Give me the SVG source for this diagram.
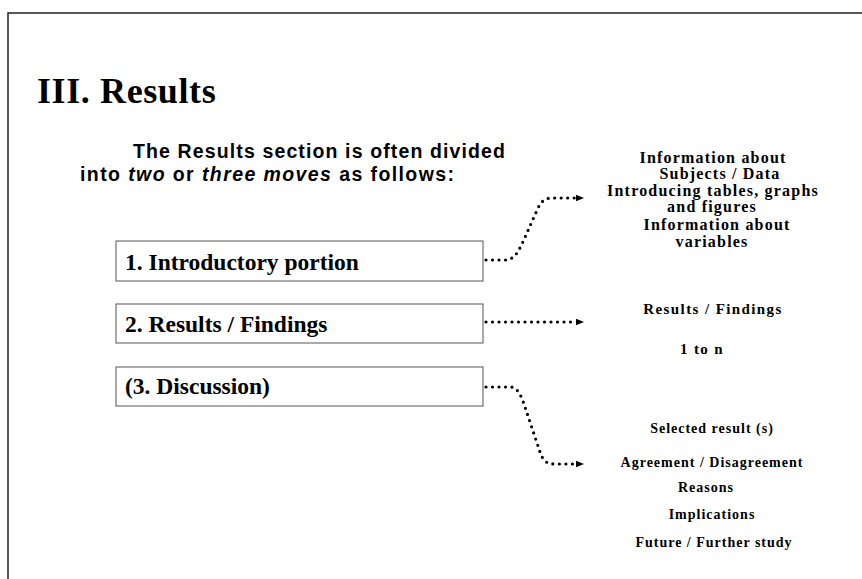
<svg xmlns="http://www.w3.org/2000/svg" width="862" height="579" viewBox="0 0 862 579">
<defs>
<style>
.frame{stroke:#222;stroke-width:1.5;fill:none}
.box{fill:#fff;stroke:#555;stroke-width:1}
.boxt{font-family:"Liberation Serif","Times New Roman",serif;font-weight:bold;font-size:23.5px;fill:#000}
.title{font-family:"Liberation Serif","Times New Roman",serif;font-weight:bold;font-size:36px;letter-spacing:0.6px;fill:#000}
.sub{font-family:"Liberation Sans",Arial,sans-serif;font-weight:bold;font-size:19.5px;fill:#000}
.rt{font-family:"Liberation Serif","Times New Roman",serif;font-weight:bold;fill:#000;text-anchor:middle}
.r1{font-size:16px;letter-spacing:1.2px}
.r2{font-size:15px;letter-spacing:1.4px}
.r3{font-size:14px;letter-spacing:1px}
.dot{fill:none;stroke:#000;stroke-width:3.2;stroke-linecap:round;stroke-dasharray:0 6.5}
</style>
<marker id="ah" viewBox="0 0 10 10" refX="0" refY="5" markerWidth="12" markerHeight="8" markerUnits="userSpaceOnUse" orient="auto">
<path d="M0,1 L10,5 L0,9 Z" fill="#000"/>
</marker>
</defs>
<rect width="862" height="579" fill="#fff"/>
<path class="frame" d="M8,579 V13 H862"/>
<text class="title" x="37" y="103">III. Results</text>
<text class="sub" x="133" y="158" textLength="372" lengthAdjust="spacing">The Results section is often divided</text>
<text class="sub" x="80" y="181" textLength="374" lengthAdjust="spacing">into <tspan font-style="italic">two</tspan>  or <tspan font-style="italic">three moves</tspan>  as follows:</text>
<g id="n1"><rect class="box" x="116" y="241" width="367" height="40"/><text class="boxt" x="125" y="270">1. Introductory portion</text></g>
<g id="n2"><rect class="box" x="116" y="304" width="367" height="39"/><text class="boxt" x="125" y="332">2. Results / Findings</text></g>
<g id="n3"><rect class="box" x="116" y="367" width="367" height="39"/><text class="boxt" x="125" y="394">(3. Discussion)</text></g>
<g id="t1">
<text class="rt r1" x="713" y="163">Information about</text>
<text class="rt r1" x="720" y="179">Subjects  / Data</text>
<text class="rt r1" x="713" y="196">Introducing tables, graphs</text>
<text class="rt r1" x="712" y="212">and figures</text>
<text class="rt r1" x="717" y="230">Information about</text>
<text class="rt r1" x="712" y="247">variables</text>
</g>
<g id="t2">
<text class="rt r2" x="713" y="314">Results / Findings</text>
<text class="rt r2" x="702" y="354">1 to n</text>
</g>
<g id="t3">
<text class="rt r3" x="712" y="433">Selected result (s)</text>
<text class="rt r3" x="712" y="467">Agreement / Disagreement</text>
<text class="rt r3" x="706" y="492">Reasons</text>
<text class="rt r3" x="712" y="519">Implications</text>
<text class="rt r3" x="714" y="547">Future / Further study</text>
</g>
<g id="connectors">
<path class="dot" d="M486,260 H505 C514,260 518,252 522,244 L538,208 C542,200 546,198 553,198 H576" marker-end="url(#ah)"/>
<path class="dot" d="M486,322 H576" marker-end="url(#ah)"/>
<path class="dot" d="M486,387 H510 C518,387 521,396 524,404 L540,452 C543,461 547,464 554,464 H576" marker-end="url(#ah)"/>
</g>
</svg>
